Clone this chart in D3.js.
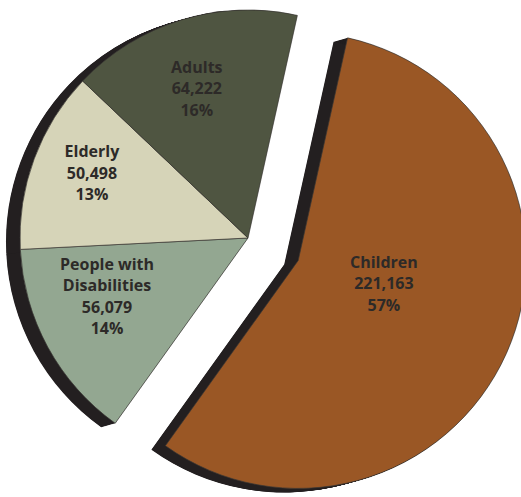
<!DOCTYPE html>
<html>
<head>
<meta charset="utf-8">
<script src="https://cdn.jsdelivr.net/npm/d3@7"></script>
<style>
  html, body { margin: 0; padding: 0; background: #fff; }
  svg { display: block; }
  text { font-family: "Open Sans", "DejaVu Sans", sans-serif; font-weight: 700; }
</style>
</head>
<body>
<svg id="chart" width="521" height="497"></svg>
<script>
// Population groups served
const categories = ["Children", "People with Disabilities", "Elderly", "Adults"];
const counts = [221163, 56079, 50498, 64222];
const shareLabels = ["57%", "14%", "13%", "16%"];
const colors = ["#9a5725", "#93a791", "#d6d4b8", "#4f5541"];

const width = 521, height = 497;
const center = [248, 238];
const radius = 228;
const explode = 55;                 // how far the Children wedge is pulled out
const depth = [-14, 4];             // extrusion direction of the dark edge
const startAngle = 12.5 * Math.PI / 180;

// label placement: angle shift (degrees) from the wedge middle, radius fraction
const labelLayout = {
  "Children": { da: -8.5, rf: 0.39 },
  "People with Disabilities": { da: 6, rf: 0.67 },
  "Elderly": { da: 2, rf: 0.74 },
  "Adults": { da: -2, rf: 0.69 }
};

const data = categories.map((c, i) => ({ name: c, value: counts[i], share: shareLabels[i], color: colors[i] }));

const pie = d3.pie().sort(null).value(d => d.value)
  .startAngle(startAngle).endAngle(startAngle + 2 * Math.PI);
const arcs = pie(data);

const arc = d3.arc().innerRadius(0).outerRadius(radius);

const svg = d3.select("#chart");
const root = svg.append("g").attr("transform", `translate(${center[0]},${center[1]})`);

function sliceOffset(d) {
  if (d.data.name !== "Children") return [0, 0];
  const mid = (d.startAngle + d.endAngle) / 2;
  return [Math.sin(mid) * explode, -Math.cos(mid) * explode];
}

const slices = root.selectAll("g.slice").data(arcs).join("g")
  .attr("class", "slice")
  .attr("transform", d => { const o = sliceOffset(d); return `translate(${o[0]},${o[1]})`; });

// dark extruded edge: the wedge swept along the depth direction
const steps = d3.range(1, 29).map(i => i / 28);
slices.each(function(d) {
  const g = d3.select(this).append("g").attr("class", "edge");
  g.selectAll("path").data(steps).join("path")
    .attr("d", arc(d))
    .attr("transform", t => `translate(${depth[0] * t},${depth[1] * t})`)
    .attr("fill", "#231f20");
});

// wedge faces drawn over all edges
root.append("g").selectAll("path").data(arcs).join("path")
  .attr("transform", d => { const o = sliceOffset(d); return `translate(${o[0]},${o[1]})`; })
  .attr("d", arc)
  .attr("fill", d => d.data.color)
  .attr("stroke", "#3a3634")
  .attr("stroke-width", 0.7)
  .attr("stroke-linejoin", "round");

// labels: name (wrapped), count, share
function wrapName(name) {
  const words = name.split(" ");
  const lines = [];
  let cur = "";
  words.forEach(w => {
    const next = cur ? cur + " " + w : w;
    if (next.length > 12 && cur) { lines.push(cur); cur = w; } else { cur = next; }
  });
  if (cur) lines.push(cur);
  return lines;
}

const fmt = d3.format(",");
const lineH = 21.5;

root.append("g").selectAll("text").data(arcs).join("text")
  .attr("text-anchor", "middle")
  .attr("font-size", 16)
  .attr("fill", "#2d2a28")
  .each(function(d) {
    const o = sliceOffset(d);
    const lay = labelLayout[d.data.name];
    const mid = (d.startAngle + d.endAngle) / 2 + lay.da * Math.PI / 180;
    const r = radius * lay.rf;
    const x = o[0] + Math.sin(mid) * r;
    const y = o[1] - Math.cos(mid) * r;
    const lines = wrapName(d.data.name).concat([fmt(d.data.value), d.data.share]);
    const top = y - (lines.length - 1) * lineH / 2 + 5;
    d3.select(this).selectAll("tspan").data(lines).join("tspan")
      .attr("x", x)
      .attr("y", (l, i) => top + i * lineH)
      .text(l => l);
  });
</script>
</body>
</html>
